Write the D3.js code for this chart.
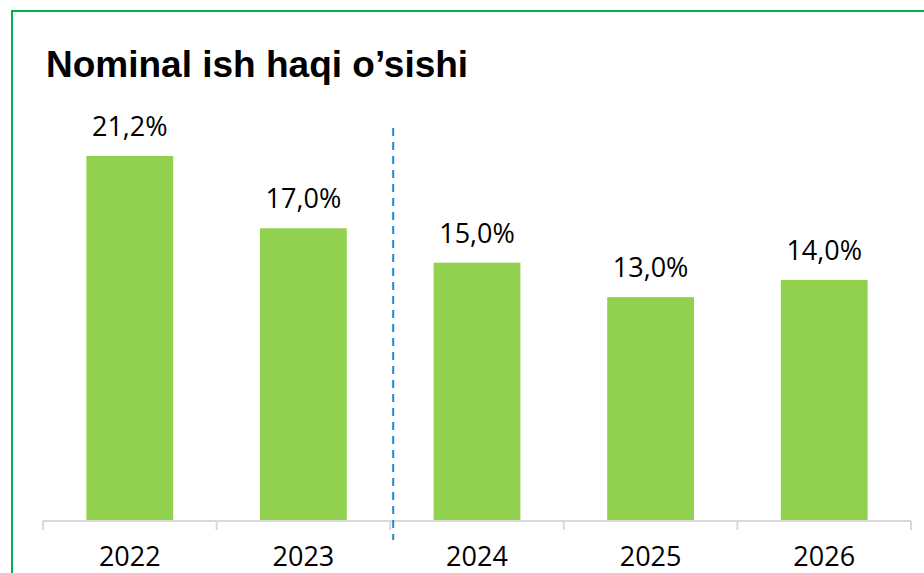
<!DOCTYPE html>
<html>
<head>
<meta charset="utf-8">
<script src="https://cdn.jsdelivr.net/npm/d3@7"></script>
<style>
  html, body { margin: 0; padding: 0; background: #fff; }
  svg { display: block; }
</style>
</head>
<body>
<svg id="chart"></svg>
<script>
var years = ['2022', '2023', '2024', '2025', '2026'];
var growth = [21.2, 17.0, 15.0, 13.0, 14.0];
var title = 'Nominal ish haqi o\u2019sishi';
var splitAfter = '2023';

var W = 924, H = 573;
var svg = d3.select('#chart').attr('width', W).attr('height', H);

// green frame (right/bottom edges run off the picture)
svg.append('rect')
  .attr('x', 12).attr('y', 11)
  .attr('width', W + 20).attr('height', H + 20)
  .attr('fill', '#fff')
  .attr('stroke', '#00b050')
  .attr('stroke-width', 2);

svg.append('text')
  .attr('x', 46).attr('y', 77)
  .attr('font-family', 'Liberation Sans, Arial, sans-serif')
  .attr('font-weight', 'bold')
  .attr('font-size', 37)
  .attr('fill', '#000')
  .text(title);

var x = d3.scaleBand().domain(years).range([43, 911]).paddingInner(0.5).paddingOuter(0.25);
var y = d3.scaleLinear().domain([0, 25]).range([521, 90.5]);

var data = years.map(function(d, i) { return { year: d, v: growth[i] }; });

// bars
svg.append('g').selectAll('rect')
  .data(data).enter().append('rect')
  .attr('x', function(d) { return x(d.year); })
  .attr('y', function(d) { return y(d.v); })
  .attr('width', x.bandwidth())
  .attr('height', function(d) { return y(0) - y(d.v); })
  .attr('fill', '#92d050');

// axis line and ticks between categories
var axis = svg.append('g').attr('stroke', '#d9d9d9').attr('stroke-width', 2);
axis.append('line')
  .attr('x1', x.range()[0]).attr('x2', x.range()[1])
  .attr('y1', y(0)).attr('y2', y(0));
var bounds = years.map(function(d) { return x(d) - x.step() * x.paddingInner() / 2; });
bounds.push(x.range()[1]);
axis.selectAll('line.tick')
  .data(bounds).enter().append('line')
  .attr('class', 'tick')
  .attr('x1', function(d) { return d; }).attr('x2', function(d) { return d; })
  .attr('y1', y(0)).attr('y2', y(0) + 9);

// value labels
svg.append('g').selectAll('text')
  .data(data).enter().append('text')
  .attr('x', function(d) { return x(d.year) + x.bandwidth() / 2; })
  .attr('y', function(d) { return y(d.v) - 20; })
  .attr('text-anchor', 'middle')
  .attr('font-family', 'Open Sans, sans-serif')
  .attr('font-size', 27)
  .attr('fill', '#000')
  .text(function(d) { return d3.format('.1f')(d.v).replace('.', ',') + '%'; });

// category labels
svg.append('g').selectAll('text')
  .data(years).enter().append('text')
  .attr('x', function(d) { return x(d) + x.bandwidth() / 2; })
  .attr('y', 566)
  .attr('text-anchor', 'middle')
  .attr('font-family', 'Open Sans, sans-serif')
  .attr('font-size', 27)
  .attr('fill', '#000')
  .text(function(d) { return d; });

// dashed split between actual and forecast
var splitX = x(splitAfter) + x.bandwidth() + x.step() * x.paddingInner() / 2 + 3;
svg.append('line')
  .attr('x1', splitX).attr('x2', splitX)
  .attr('y1', 128).attr('y2', 540)
  .attr('stroke', '#1f88d8')
  .attr('stroke-width', 2)
  .attr('stroke-dasharray', '8,6');
</script>
</body>
</html>
